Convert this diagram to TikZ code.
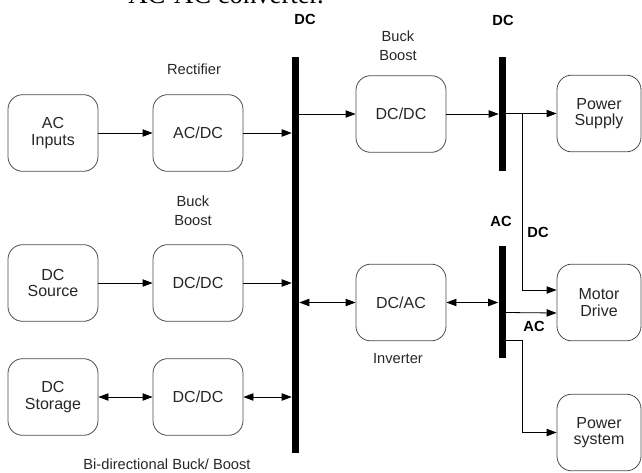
\documentclass[tikz,border=0pt]{standalone}
\usepackage{fontspec}
\setmainfont{Liberation Sans}
\newfontfamily\captionserif{Liberation Serif}
\usetikzlibrary{arrows.meta, positioning, calc}

\begin{document}
\begin{tikzpicture}[x=0.75pt, y=-0.75pt,
  box/.style={rectangle, rounded corners=11pt, draw=black!70, line width=0.6pt, minimum width=67.5pt, minimum height=57.5pt, align=center, text=black!85, font=\fontsize{12}{12.5}\selectfont},
  outbox/.style={box, minimum width=63pt},
  bus/.style={rectangle, fill=black, inner sep=0pt, minimum width=5.25pt},
  lbl/.style={align=center, text=black!85, font=\fontsize{11}{14.25}\selectfont},
  buslbl/.style={font=\bfseries\fontsize{11}{13}\selectfont},
  arrow/.style={-{Triangle[length=7.5pt, width=5.5pt]}, line width=0.6pt},
  biarrow/.style={{Triangle[length=7.5pt, width=5.5pt]}-{Triangle[length=7.5pt, width=5.5pt]}, line width=0.6pt},
  wire/.style={line width=0.6pt}
]
\useasboundingbox (0,0) rectangle (642,472);
\clip (0,0) rectangle (642,472);

% caption remnant cut by the top edge
\node[anchor=base west, inner sep=0pt, font=\captionserif\fontsize{20}{20}\selectfont] (cap) at (128,3) {AC-AC converter.};

% sources and converters
\node[box] (acin) at (53,133) {AC\\Inputs};
\node[box] (acdc) at (198,133) {AC/DC};
\node[box] (dcsrc) at (53,283) {DC\\Source};
\node[box] (dcdcsrc) at (198,283) {DC/DC};
\node[box] (dcsto) at (53,397) {DC\\Storage};
\node[box] (dcdcsto) at (198,397) {DC/DC};
\node[box] (dcdcout) at (401,114) {DC/DC};
\node[box] (dcac) at (401,302.5) {DC/AC};

% loads
\node[outbox] (psupply) at (599,113.5) {Power\\Supply};
\node[outbox] (motor) at (599,302.5) {Motor\\Drive};
\node[outbox] (psys) at (599,432.5) {Power\\system};

% buses
\node[bus, minimum height=297pt] (busdc) at (295.5,255) {};
\node[bus, minimum height=85.5pt] (busout) at (502.5,114) {};
\node[bus, minimum height=84pt] (busac) at (502,302) {};

% labels
\node[lbl] (rectlbl) at (194,69) {Rectifier};
\node[lbl] (bbout) at (398,46) {Buck\\Boost};
\node[lbl] (bbsrc) at (193,211) {Buck\\Boost};
\node[lbl] (invlbl) at (398,359) {Inverter};
\node[lbl] (bidilbl) at (167,464) {Bi-directional Buck/ Boost};
\node[buslbl] (dcbuslbl) at (305,19) {DC};
\node[buslbl] (outbuslbl) at (503,20) {DC};
\node[buslbl] (acbuslbl) at (501,221) {AC};
\node[buslbl] (dcfeedlbl) at (538,232) {DC};
\node[buslbl] (acfeedlbl) at (534,326) {AC};

% junctions
\coordinate (jdc) at (522,113.5);
\coordinate (jac) at (522,340);

% connections
\draw[arrow] (acin) -- (acdc);
\draw[arrow] (acdc.east) -- (acdc.east -| busdc.west);
\draw[arrow] (dcsrc) -- (dcdcsrc);
\draw[arrow] (dcdcsrc.east) -- (dcdcsrc.east -| busdc.west);
\draw[biarrow] (dcsto) -- (dcdcsto);
\draw[biarrow] (dcdcsto.east) -- (dcdcsto.east -| busdc.west);
\draw[arrow] (busdc.east |- dcdcout.west) -- (dcdcout.west);
\draw[biarrow] (busdc.east |- dcac.west) -- (dcac.west);
\draw[arrow] (dcdcout.east) -- (dcdcout.east -| busout.west);
\draw[biarrow] (dcac.east) -- (dcac.east -| busac.west);
\draw[arrow] (busout.east |- psupply.west) -- (psupply.west);
\draw[arrow] (jdc) |- ($(motor.west)+(0,-12.5)$);
\draw[arrow] ($(busac.east)+(0,10.5)$) -- ($(motor.west)+(0,10.5)$);
\draw[wire] (busac.east |- jac) -- (jac);
\draw[arrow] (jac) |- (psys.west);

\end{tikzpicture}
\end{document}
